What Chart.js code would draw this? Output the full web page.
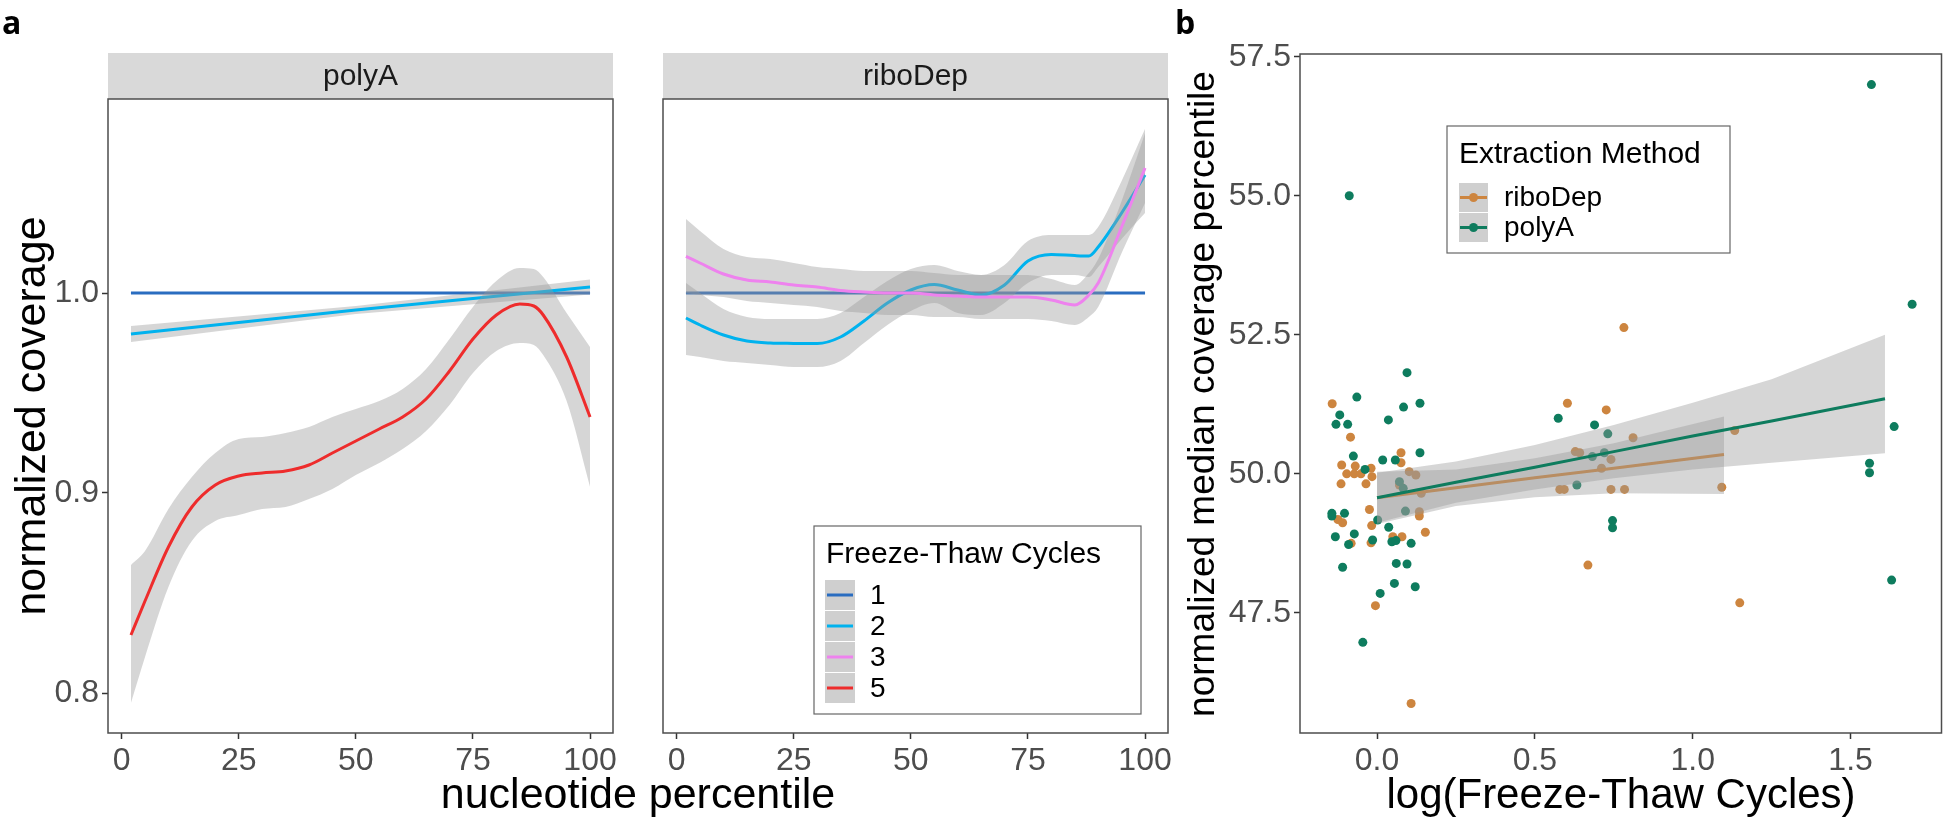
<!DOCTYPE html>
<html>
<head>
<meta charset="utf-8">
<title>Freeze-thaw coverage</title>
<script src="https://cdn.jsdelivr.net/npm/chart.js@4.4.1/dist/chart.umd.min.js"></script>
<style>
  html, body { margin: 0; padding: 0; background: #fff; }
  #wrap { position: relative; width: 1946px; height: 822px; overflow: hidden; }
  #wrap canvas { position: absolute; left: 0; top: 0; }
</style>
</head>
<body>
<div id="wrap">
  <canvas id="polyAChart" width="1946" height="822"></canvas>
  <canvas id="riboChart" width="1946" height="822"></canvas>
  <canvas id="scatterChart" width="1946" height="822"></canvas>
</div>
<script>
// ---------- panel a : smoothed coverage ----------
const pctTicks = [0, 25, 50, 75, 100];
const covTicks = [0.8, 0.9, 1.0];
const cycleLabels = ['1', '2', '3', '5'];
const cycleColors = ['#2A6DC0', '#00B2EE', '#EE82EE', '#EE2C2C'];

const nucleotidePct = [2, 5, 10, 15, 20, 25, 30, 35, 40, 45, 50, 55, 60, 65, 70, 75, 80, 85, 88, 90, 95, 100];

const flatPct = [2, 100];
const ftc1Fit = [1.0, 1.0];

const polyA2Pct = [2, 50, 100];
const polyA2Fit = [0.9795, 0.9915, 1.003];
const polyA2Lo = [0.9755, 0.9895, 0.9993];
const polyA2Hi = [0.9835, 0.9935, 1.0067];

const polyA5Fit = [0.829, 0.846, 0.873, 0.893, 0.904, 0.9085, 0.910, 0.911, 0.914, 0.920, 0.926, 0.932, 0.938, 0.947, 0.961, 0.977, 0.989, 0.9945, 0.9935, 0.989, 0.968, 0.938];
const polyA5Lo = [0.795, 0.818, 0.853, 0.876, 0.886, 0.889, 0.892, 0.893, 0.897, 0.902, 0.909, 0.915, 0.922, 0.931, 0.944, 0.960, 0.971, 0.975, 0.974, 0.969, 0.946, 0.903];
const polyA5Hi = [0.864, 0.871, 0.892, 0.908, 0.920, 0.927, 0.928, 0.930, 0.933, 0.938, 0.942, 0.946, 0.952, 0.962, 0.977, 0.993, 1.006, 1.0125, 1.012, 1.008, 0.990, 0.973];

const ribo2Fit = [0.9875, 0.984, 0.979, 0.976, 0.975, 0.9748, 0.9747, 0.978, 0.986, 0.995, 1.0015, 1.0042, 1.0015, 0.999, 1.004, 1.016, 1.0193, 1.0187, 1.0185, 1.023, 1.040, 1.059];
const ribo2Lo = [0.969, 0.968, 0.966, 0.965, 0.964, 0.963, 0.963, 0.966, 0.975, 0.984, 0.991, 0.995, 0.990, 0.989, 0.995, 1.005, 1.009, 1.009, 1.008, 1.013, 1.027, 1.040];
const ribo2Hi = [1.005, 1.000, 0.992, 0.988, 0.987, 0.987, 0.987, 0.990, 0.998, 1.006, 1.012, 1.014, 1.011, 1.009, 1.014, 1.026, 1.029, 1.029, 1.029, 1.033, 1.056, 1.082];

const ribo3Fit = [1.0183, 1.015, 1.0095, 1.0065, 1.0055, 1.004, 1.003, 1.0013, 1.0005, 1.0, 1.0, 0.999, 0.9985, 0.998, 0.998, 0.998, 0.9965, 0.994, 0.999, 1.005, 1.033, 1.0625];
const ribo3Lo = [1.000, 0.999, 0.998, 0.996, 0.995, 0.994, 0.993, 0.991, 0.990, 0.989, 0.989, 0.988, 0.988, 0.987, 0.987, 0.987, 0.986, 0.984, 0.988, 0.993, 1.020, 1.045];
const ribo3Hi = [1.037, 1.031, 1.022, 1.018, 1.017, 1.015, 1.013, 1.012, 1.011, 1.011, 1.011, 1.010, 1.009, 1.009, 1.009, 1.009, 1.007, 1.004, 1.010, 1.017, 1.046, 1.080];

// ---------- panel b : median coverage vs log cycles ----------
const logTicks = [0, 0.5, 1.0, 1.5];
const medTicks = [47.5, 50, 52.5, 55, 57.5];
const methodLabels = ['riboDep', 'polyA'];
const methodColors = ['#CD853F', '#0E7C5E'];

const riboX = [0.782, -0.142, 0.603, 0.726, -0.084, 0.076, 0.076, -0.112, -0.069, -0.096, -0.072, -0.051, -0.016, -0.019, -0.114, -0.035, 0.102, 0.123, 0.134, 0.134, -0.024, -0.124, -0.109, -0.017, 0.050, 0.079, 0.153, -0.082, -0.019, -0.005, 0.108, 0.811, 0.628, 0.642, 0.741, 0.711, 0.579, 0.593, 0.741, 0.784, 1.092, 1.133, 0.668, 1.149, 0.140, 0.071];
const riboY = [52.63, 51.26, 51.27, 51.15, 50.66, 50.38, 50.20, 50.16, 50.14, 50.00, 50.00, 50.00, 49.95, 50.10, 49.82, 49.82, 50.04, 49.98, 49.32, 49.24, 49.36, 49.18, 49.12, 49.07, 48.87, 48.87, 48.95, 48.75, 48.76, 47.63, 45.87, 50.65, 50.40, 50.38, 50.26, 50.10, 49.72, 49.72, 49.72, 49.72, 49.76, 50.78, 48.36, 47.68, 49.65, 49.80];

const polyX = [1.566, -0.088, 1.695, 0.095, -0.064, 0.084, 0.136, -0.118, 0.036, 0.574, -0.130, -0.093, 0.689, 0.731, -0.075, 0.018, 0.058, 0.136, -0.038, 0.682, 0.720, 0.633, 1.560, 1.560, 1.638, 0.071, 0.083, 0.090, -0.143, -0.143, -0.103, 0.002, 0.037, -0.132, -0.072, 0.047, 0.060, 0.108, -0.090, -0.014, 0.746, 0.746, -0.109, 0.061, 0.095, 0.055, 0.121, 0.010, -0.045, 1.630];
const polyY = [57.00, 55.00, 53.05, 51.82, 51.38, 51.20, 51.27, 51.06, 50.97, 51.00, 50.89, 50.89, 50.88, 50.72, 50.32, 50.25, 50.25, 50.38, 50.08, 50.31, 50.38, 49.80, 50.19, 50.02, 50.85, 49.86, 49.74, 49.33, 49.29, 49.24, 49.29, 49.17, 49.04, 48.87, 48.92, 48.78, 48.80, 48.75, 48.73, 48.81, 49.16, 49.03, 48.32, 48.39, 48.38, 48.03, 47.97, 47.85, 46.97, 48.09];

const riboFitX = [0, 0.25, 0.5, 0.75, 1.099];
const riboFitY = [49.57, 49.75, 49.93, 50.10, 50.35];
const riboFitLo = [49.10, 49.42, 49.58, 49.65, 49.64];
const riboFitHi = [50.04, 50.08, 50.28, 50.55, 51.03];

const polyFitX = [0, 0.25, 0.5, 0.75, 1.0, 1.25, 1.609];
const polyFitY = [49.57, 49.85, 50.12, 50.40, 50.68, 50.95, 51.35];
const polyFitLo = [49.12, 49.48, 49.72, 49.92, 50.08, 50.20, 50.37];
const polyFitHi = [50.02, 50.22, 50.52, 50.88, 51.28, 51.70, 52.50];

// ---------- helpers ----------
const FONT = '"Liberation Sans", Arial, Helvetica, sans-serif';
const BAND = 'rgba(153,153,153,0.4)';
const KEY_BG = '#CFCFCF';

Chart.defaults.font.family = FONT;
Chart.defaults.animation = false;

function toXY(xs, ys) {
    return xs.map((x, i) => ({ x: x, y: ys[i] }));
}

function band(xs, lo, hi, order, smooth = true) {
    const common = {
        type: 'line',
        borderColor: 'rgba(0,0,0,0)',
        borderWidth: 0,
        pointRadius: 0,
        order: order,
        cubicInterpolationMode: smooth ? 'monotone' : 'default'
    };
    return [
        { ...common, data: toXY(xs, lo), fill: false },
        { ...common, data: toXY(xs, hi), fill: '-1', backgroundColor: BAND }
    ];
}

function curve(xs, ys, color, order, smooth = true) {
    return {
        type: 'line',
        data: toXY(xs, ys),
        borderColor: color,
        borderWidth: 3,
        pointRadius: 0,
        fill: false,
        order: order,
        cubicInterpolationMode: smooth ? 'monotone' : 'default'
    };
}

function axis(min, max, tickVals, fmt, fitSize, horizontal, show = true) {
    return {
        type: 'linear',
        min: min,
        max: max,
        display: show,
        afterBuildTicks: s => { s.ticks = tickVals.map(v => ({ value: v })); },
        afterFit: s => {
            if (horizontal) s.height = fitSize;
            else s.width = fitSize;
        },
        ticks: {
            autoSkip: false,
            maxRotation: 0,
            padding: 3,
            color: '#4D4D4D',
            font: { size: 32 },
            callback: fmt
        },
        grid: { drawOnChartArea: false, tickLength: 6, tickColor: '#333333', tickWidth: 1.5 },
        border: { display: false }
    };
}

// strip, frame, titles, legends
const decor = {
    id: 'decor',
    afterDatasetsDraw(chart, args, opts) {
        const { ctx, chartArea: a } = chart;
        ctx.save();
        if (opts.strip) {
            ctx.fillStyle = '#D9D9D9';
            ctx.fillRect(a.left, opts.stripTop, a.right - a.left, a.top - opts.stripTop);
            ctx.fillStyle = '#1A1A1A';
            ctx.font = `30px ${FONT}`;
            ctx.textAlign = 'center';
            ctx.textBaseline = 'middle';
            ctx.fillText(opts.strip, (a.left + a.right) / 2, (opts.stripTop + a.top) / 2 + 1);
        }
        ctx.strokeStyle = '#4D4D4D';
        ctx.lineWidth = 1.5;
        ctx.strokeRect(a.left, a.top, a.right - a.left, a.bottom - a.top);
        ctx.restore();
    },
    afterDraw(chart, args, opts) {
        const ctx = chart.ctx;
        (opts.texts || []).forEach(t => {
            ctx.save();
            ctx.translate(t.x, t.y);
            if (t.rot) ctx.rotate(t.rot);
            ctx.font = `${t.weight || 'normal'} ${t.size}px ${t.family || FONT}`;
            ctx.fillStyle = '#000';
            ctx.textAlign = t.align || 'center';
            ctx.textBaseline = t.baseline || 'middle';
            ctx.fillText(t.text, 0, 0);
            ctx.restore();
        });
        if (opts.legend) opts.legend(ctx);
    }
};

function drawCycleLegend(ctx) {
    ctx.save();
    ctx.fillStyle = '#fff';
    ctx.fillRect(814, 526, 327, 188);
    ctx.strokeStyle = '#666';
    ctx.lineWidth = 1.2;
    ctx.strokeRect(814, 526, 327, 188);
    ctx.fillStyle = '#000';
    ctx.font = `30px ${FONT}`;
    ctx.textAlign = 'left';
    ctx.textBaseline = 'alphabetic';
    ctx.fillText('Freeze-Thaw Cycles', 826, 563);
    cycleLabels.forEach((lab, i) => {
        const y0 = 580 + i * 31;
        ctx.fillStyle = KEY_BG;
        ctx.fillRect(825, y0, 30, 30);
        ctx.strokeStyle = cycleColors[i];
        ctx.lineWidth = 3;
        ctx.beginPath();
        ctx.moveTo(827, y0 + 15);
        ctx.lineTo(853, y0 + 15);
        ctx.stroke();
        ctx.fillStyle = '#000';
        ctx.font = `28px ${FONT}`;
        ctx.textBaseline = 'middle';
        ctx.fillText(lab, 870, y0 + 16);
    });
    ctx.restore();
}

function drawMethodLegend(ctx) {
    ctx.save();
    ctx.fillStyle = '#fff';
    ctx.fillRect(1447, 126, 283, 127);
    ctx.strokeStyle = '#666';
    ctx.lineWidth = 1.2;
    ctx.strokeRect(1447, 126, 283, 127);
    ctx.fillStyle = '#000';
    ctx.font = `30px ${FONT}`;
    ctx.textAlign = 'left';
    ctx.textBaseline = 'alphabetic';
    ctx.fillText('Extraction Method', 1459, 163);
    methodLabels.forEach((lab, i) => {
        const y0 = 183 + i * 30;
        ctx.fillStyle = KEY_BG;
        ctx.fillRect(1459, y0, 29, 29);
        ctx.strokeStyle = methodColors[i];
        ctx.lineWidth = 3;
        ctx.beginPath();
        ctx.moveTo(1460, y0 + 14.5);
        ctx.lineTo(1487, y0 + 14.5);
        ctx.stroke();
        ctx.fillStyle = methodColors[i];
        ctx.beginPath();
        ctx.arc(1473.5, y0 + 14.5, 4.5, 0, Math.PI * 2);
        ctx.fill();
        ctx.fillStyle = '#000';
        ctx.font = `28px ${FONT}`;
        ctx.textBaseline = 'middle';
        ctx.fillText(lab, 1504, y0 + 15);
    });
    ctx.restore();
}

const fmt1 = v => Number(v).toFixed(1);
const fmt0 = v => String(v);

// ---------- panel a, polyA facet ----------
new Chart(document.getElementById('polyAChart'), {
    type: 'line',
    data: {
        datasets: [
            ...band(flatPct, ftc1Fit, ftc1Fit, 26),
            curve(flatPct, ftc1Fit, cycleColors[0], 25, false),
            ...band(polyA2Pct, polyA2Lo, polyA2Hi, 24, false),
            curve(polyA2Pct, polyA2Fit, cycleColors[1], 23, false),
            ...band(nucleotidePct, polyA5Lo, polyA5Hi, 22),
            curve(nucleotidePct, polyA5Fit, cycleColors[3], 21)
        ]
    },
    options: {
        responsive: false,
        devicePixelRatio: 1,
        layout: { padding: { left: 0, top: 99, right: 1946 - 613, bottom: 0 } },
        scales: {
            x: axis(-2.9, 104.9, pctTicks, fmt0, 89, true),
            y: axis(0.78, 1.097, covTicks, fmt1, 108, false)
        },
        plugins: {
            legend: { display: false },
            tooltip: { enabled: false },
            decor: {
                strip: 'polyA',
                stripTop: 53,
                texts: [
                    { text: 'a', x: 2, y: 34, size: 32, weight: 'bold', family: '"Open Sans", sans-serif', align: 'left', baseline: 'alphabetic' },
                    { text: 'normalized coverage', x: 33, y: 416, size: 43, rot: -Math.PI / 2 },
                    { text: 'nucleotide percentile', x: 638, y: 796, size: 43 }
                ]
            }
        }
    },
    plugins: [decor]
});

// ---------- panel a, riboDep facet ----------
new Chart(document.getElementById('riboChart'), {
    type: 'line',
    data: {
        datasets: [
            ...band(flatPct, ftc1Fit, ftc1Fit, 26),
            curve(flatPct, ftc1Fit, cycleColors[0], 25, false),
            ...band(nucleotidePct, ribo2Lo, ribo2Hi, 24),
            curve(nucleotidePct, ribo2Fit, cycleColors[1], 23),
            ...band(nucleotidePct, ribo3Lo, ribo3Hi, 22),
            curve(nucleotidePct, ribo3Fit, cycleColors[2], 21)
        ]
    },
    options: {
        responsive: false,
        devicePixelRatio: 1,
        layout: { padding: { left: 663, top: 99, right: 1946 - 1168, bottom: 0 } },
        scales: {
            x: axis(-2.9, 104.9, pctTicks, fmt0, 89, true),
            y: axis(0.78, 1.097, covTicks, fmt1, 0, false, false)
        },
        plugins: {
            legend: { display: false },
            tooltip: { enabled: false },
            decor: { strip: 'riboDep', stripTop: 53, legend: drawCycleLegend }
        }
    },
    plugins: [decor]
});

// ---------- panel b ----------
new Chart(document.getElementById('scatterChart'), {
    type: 'scatter',
    data: {
        datasets: [
            { data: toXY(riboX, riboY), backgroundColor: methodColors[0], borderWidth: 0, pointRadius: 4.5, order: 31 },
            { data: toXY(polyX, polyY), backgroundColor: methodColors[1], borderWidth: 0, pointRadius: 4.5, order: 30 },
            ...band(riboFitX, riboFitLo, riboFitHi, 24, false),
            { ...curve(riboFitX, riboFitY, methodColors[0], 23, false), showLine: true },
            ...band(polyFitX, polyFitLo, polyFitHi, 22, false),
            { ...curve(polyFitX, polyFitY, methodColors[1], 21, false), showLine: true }
        ]
    },
    options: {
        responsive: false,
        devicePixelRatio: 1,
        layout: { padding: { left: 1150, top: 54, right: 4, bottom: 0 } },
        scales: {
            x: axis(-0.244, 1.788, logTicks, fmt1, 89, true),
            y: axis(45.34, 57.55, medTicks, fmt1, 150, false)
        },
        plugins: {
            legend: { display: false },
            tooltip: { enabled: false },
            decor: {
                legend: drawMethodLegend,
                texts: [
                    { text: 'b', x: 1175, y: 34, size: 32, weight: 'bold', family: '"Open Sans", sans-serif', align: 'left', baseline: 'alphabetic' },
                    { text: 'normalized median coverage percentile', x: 1204, y: 394, size: 37, rot: -Math.PI / 2 },
                    { text: 'log(Freeze-Thaw Cycles)', x: 1621, y: 796, size: 42 }
                ]
            }
        }
    },
    plugins: [decor]
});
</script>
</body>
</html>
